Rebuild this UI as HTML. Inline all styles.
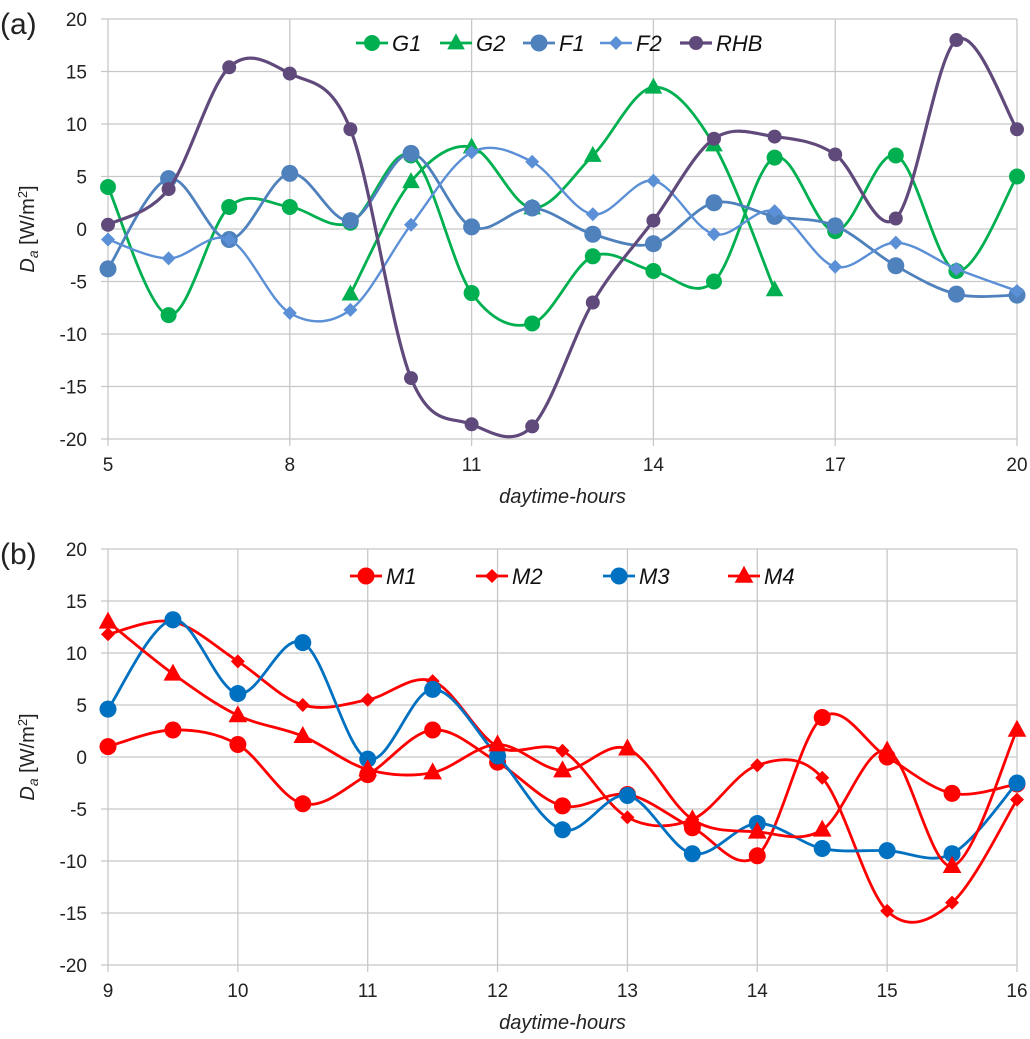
<!DOCTYPE html>
<html><head><meta charset="utf-8"><style>
body{margin:0;background:#fff;}
svg{display:block;font-family:"Liberation Sans",Arial,sans-serif;}
</style></head><body>
<svg id="svg" width="1030" height="1039" viewBox="0 0 1030 1039" xmlns="http://www.w3.org/2000/svg"></svg>
<script>
// ---- Chart (a) data ----
const hoursA = [5,6,7,8,9,10,11,12,13,14,15,16,17,18,19,20];
const g1 = [4,-8.2,2.1,2.1,0.6,7,-6.1,-9,-2.6,-4,-5,6.8,-0.2,7,-4,5];
const g2Hours = [9,10,11,12,13,14,15,16];
const g2 = [-6.2,4.5,7.8,2,7,13.5,8,-5.8];
const f1 = [-3.8,4.8,-1,5.3,0.8,7.2,0.2,2,-0.5,-1.4,2.5,1.2,0.3,-3.5,-6.2,-6.3];
const f2 = [-1,-2.8,-1,-8,-7.7,0.4,7.3,6.4,1.4,4.6,-0.5,1.7,-3.6,-1.3,-3.8,-5.9];
const rhb = [0.4,3.8,15.4,14.8,9.5,-14.2,-18.6,-18.8,-7,0.8,8.6,8.8,7.1,1,18,9.5];
const xTicksA = [5,8,11,14,17,20];
const yTicks = [-20,-15,-10,-5,0,5,10,15,20];
// ---- Chart (b) data ----
const hoursB = [9,9.5,10,10.5,11,11.5,12,12.5,13,13.5,14,14.5,15,15.5,16];
const m1 = [1,2.6,1.2,-4.5,-1.7,2.6,-0.5,-4.7,-3.6,-6.8,-9.5,3.8,0,-3.5,-2.6];
const m2 = [11.8,13,9.2,5,5.5,7.3,1,0.6,-5.8,-6,-0.8,-2,-14.8,-14,-4.1];
const m3 = [4.6,13.2,6.1,11,-0.2,6.5,0.1,-7,-3.7,-9.3,-6.4,-8.8,-9,-9.3,-2.5];
const m4 = [13,8,4,2,-1.2,-1.5,1.2,-1.3,0.8,-6,-7.2,-7,0.6,-10.5,2.6];
const xTicksB = [9,10,11,12,13,14,15,16];

const NS="http://www.w3.org/2000/svg";
const svg=document.getElementById('svg');
function mk(tag,attrs,parent){const e=document.createElementNS(NS,tag);for(const k in attrs)e.setAttribute(k,attrs[k]);(parent||svg).appendChild(e);return e;}

function chart(cfg){
  const g=mk('g',{});
  
  
  const L=108,R=1017,T=cfg.top,B=cfg.bottom;
  const xs=v=>L+(v-cfg.xmin)/(cfg.xmax-cfg.xmin)*(R-L);
  const ys=v=>B-(v+20)/40*(B-T);
  yTicks.forEach(t=>{
    const ln=mk('line',{x1:L-7,x2:R,y1:ys(t),y2:ys(t),stroke:'#c8c8c8','stroke-width':1.3},g);
    
    
    const tx=mk('text',{x:87,y:ys(t)+7,'text-anchor':'end','font-size':19,fill:'#222'},g);
    tx.textContent=t;
    
    
  });
  cfg.xticks.forEach(t=>{
    const ln=mk('line',{x1:xs(t),x2:xs(t),y1:T,y2:B+7,stroke:'#c8c8c8','stroke-width':1.3},g);
    
    
    const tx=mk('text',{x:xs(t),y:B+32,'text-anchor':'middle','font-size':19,fill:'#222'},g);
    tx.textContent=t;
    
    
  });
  const xt=mk('text',{x:(L+R)/2,y:B+64,'text-anchor':'middle','font-size':20,'font-style':'italic',fill:'#222'},g);
  xt.textContent='daytime-hours';
  
  
  const yt=mk('text',{transform:`translate(34,${(T+B)/2}) rotate(-90)`,'text-anchor':'middle','font-size':20,fill:'#222'},g);
  yt.innerHTML='<tspan font-style="italic">D</tspan><tspan font-style="italic" font-size="14" dy="4">a</tspan><tspan dy="-4"> [W/m</tspan><tspan font-size="13" dy="-7">2</tspan><tspan dy="7">]</tspan>';
  
  
  const pl=mk('text',{x:0,y:T+15,'font-size':30,fill:'#222'},g);
  pl.textContent=cfg.panel;
  
  
  cfg.series.forEach(s=>{
    const pts=s.x.map((xv,i)=>[xs(xv),ys(s.y[i])]);
    let d=`M${pts[0][0]},${pts[0][1]}`;
    for(let i=0;i<pts.length-1;i++){
      const p0=pts[Math.max(0,i-1)],p1=pts[i],p2=pts[i+1],p3=pts[Math.min(pts.length-1,i+2)];
      const c1=[p1[0]+(p2[0]-p0[0])/6,p1[1]+(p2[1]-p0[1])/6];
      const c2=[p2[0]-(p3[0]-p1[0])/6,p2[1]-(p3[1]-p1[1])/6];
      d+=` C${c1[0]},${c1[1]} ${c2[0]},${c2[1]} ${p2[0]},${p2[1]}`;
    }
    const sg=mk('g',{},g);
    
    
    const p=mk('path',{d:d,fill:'none',stroke:s.color,'stroke-width':s.w||2.8},sg);
    
    
    pts.forEach(pt=>{
      const m=marker(s.marker,pt[0],pt[1],s.color,s.size,sg);
      
      
    });
  });
  const lg=mk('g',{},g);
  
  
  cfg.series.forEach((s,i)=>{
    const lx=cfg.legX[i],ly=cfg.legY;
    const e=mk('g',{},lg);
    
    
    mk('line',{x1:lx,x2:lx+32,y1:ly,y2:ly,stroke:s.color,'stroke-width':s.w||2.8},e);
    marker(s.marker,lx+16,ly,s.color,s.size,e);
    const t=mk('text',{x:lx+36,y:ly+8,'font-size':22,'font-style':'italic',fill:'#111'},e);
    t.textContent=s.label;
  });
}
function marker(type,x,y,c,sz,parent){
  const r=sz||7;
  if(type==='circle') return mk('circle',{cx:x,cy:y,r:r,fill:c},parent);
  if(type==='tri') return mk('path',{d:`M${x},${y-r*1.2} L${x+r*1.1},${y+r*0.8} L${x-r*1.1},${y+r*0.8}Z`,fill:c},parent);
  return mk('path',{d:`M${x},${y-r} L${x+r},${y} L${x},${y+r} L${x-r},${y}Z`,fill:c},parent);
}
chart({name:'chart-a',panel:'(a)',top:19,bottom:439,xmin:5,xmax:20,xticks:xTicksA,legY:43,
  legX:[356,440,523,600,680],
  series:[
    {label:'G1',x:hoursA,y:g1,color:'#00b050',marker:'circle',size:8},
    {label:'G2',x:g2Hours,y:g2,color:'#00b050',marker:'tri',size:8},
    {label:'F1',x:hoursA,y:f1,color:'#4f81bd',marker:'circle',size:8.5},
    {label:'F2',x:hoursA,y:f2,color:'#5b8fd6',marker:'diamond',size:7,w:2.4},
    {label:'RHB',x:hoursA,y:rhb,color:'#604a7b',marker:'circle',size:7,w:3.2}
  ]});
chart({name:'chart-b',panel:'(b)',top:549,bottom:965,xmin:9,xmax:16,xticks:xTicksB,legY:576,
  legX:[350,476,603,728],
  series:[
    {label:'M1',x:hoursB,y:m1,color:'#ff0000',marker:'circle',size:8.5},
    {label:'M2',x:hoursB,y:m2,color:'#ff0000',marker:'diamond',size:7},
    {label:'M3',x:hoursB,y:m3,color:'#0070c0',marker:'circle',size:8.5},
    {label:'M4',x:hoursB,y:m4,color:'#ff0000',marker:'tri',size:8.5}
  ]});
</script>
</body></html>
